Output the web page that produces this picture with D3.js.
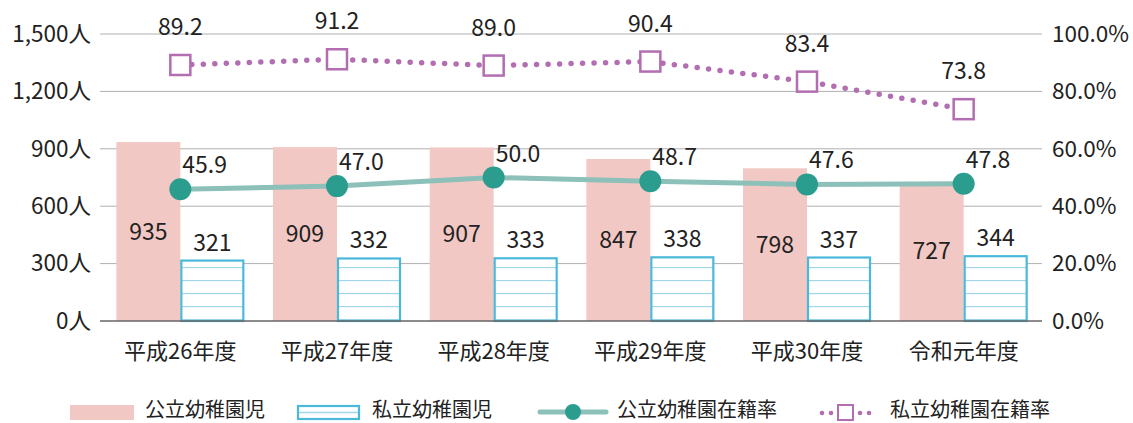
<!DOCTYPE html>
<html>
<head>
<meta charset="utf-8">
<title>幼稚園児数と在籍率</title>
<script src="https://unpkg.com/d3@7/dist/d3.min.js"></script>
<style>
  body { margin: 0; background: #fff; }
  text { font-family: "Noto Sans CJK JP", "Noto Sans", sans-serif; fill: #222; }
</style>
</head>
<body>
<div id="chart"></div>
<script>
// data
const years = ["平成26年度", "平成27年度", "平成28年度", "平成29年度", "平成30年度", "令和元年度"];
const publicKids = [935, 909, 907, 847, 798, 727];
const privateKids = [321, 332, 333, 338, 337, 344];
const publicRate = [45.9, 47.0, 50.0, 48.7, 47.6, 47.8];
const privateRate = [89.2, 91.2, 89.0, 90.4, 83.4, 73.8];
const leftTicks = [0, 300, 600, 900, 1200, 1500];
const rightTicks = [0, 20, 40, 60, 80, 100];

const W = 1133, H = 423;
const m = {left: 102, right: 91, top: 34, bottom: 102};

const pink = "#f2c8c4", blue = "#4ab9d9", blueLine = "#9fd6e9",
      teal = "#2b9d8f", tealLine = "#8cc0b8", purple = "#b36db1";

const svg = d3.select("#chart").append("svg")
    .attr("width", W).attr("height", H);

const defs = svg.append("defs");
const pat = defs.append("pattern")
    .attr("id", "hatch")
    .attr("patternUnits", "userSpaceOnUse")
    .attr("width", 20).attr("height", 13)
    .attr("y", 321 - 2);
pat.append("rect").attr("width", 20).attr("height", 13).attr("fill", "#fff");
pat.append("line").attr("x1", 0).attr("x2", 20).attr("y1", 0.5).attr("y2", 0.5)
    .attr("stroke", blueLine).attr("stroke-width", 1.3);

const x = d3.scaleBand().domain(years).range([m.left, W - m.right]);
const y = d3.scaleLinear().domain([0, 1500]).range([H - m.bottom, m.top]);
const yr = d3.scaleLinear().domain([0, 100]).range([H - m.bottom, m.top]);
const bw = 64;
const cx = d => x(d) + x.bandwidth() / 2;

// grid lines
svg.append("g").selectAll("line").data(leftTicks.slice(1)).join("line")
    .attr("x1", m.left - 2).attr("x2", W - m.right)
    .attr("y1", d => y(d)).attr("y2", d => y(d))
    .attr("stroke", "#b0b0b0").attr("stroke-width", 1);

// axes
const axL = svg.append("g")
    .attr("transform", `translate(${m.left},0)`)
    .call(d3.axisLeft(y).tickValues(leftTicks).tickSize(0).tickPadding(11)
        .tickFormat(d => d3.format(",")(d) + "人"));
const axR = svg.append("g")
    .attr("transform", `translate(${W - m.right},0)`)
    .call(d3.axisRight(yr).tickValues(rightTicks).tickSize(0).tickPadding(10)
        .tickFormat(d => d.toFixed(1) + "%"));
[axL, axR].forEach(a => {
  a.select(".domain").remove();
  a.selectAll("text").attr("font-size", 22.5).attr("fill", "#222")
      .attr("font-family", "'Noto Sans CJK JP', sans-serif");
});

// public bars
svg.append("g").selectAll("rect").data(years).join("rect")
    .attr("x", d => cx(d) - bw)
    .attr("y", (d, i) => y(publicKids[i]))
    .attr("width", bw)
    .attr("height", (d, i) => y(0) - y(publicKids[i]))
    .attr("fill", pink);

// private bars
svg.append("g").selectAll("rect").data(years).join("rect")
    .attr("x", d => cx(d) + 1)
    .attr("y", (d, i) => y(privateKids[i]) + 1)
    .attr("width", bw - 2)
    .attr("height", (d, i) => y(0) - y(privateKids[i]) - 1)
    .attr("fill", "url(#hatch)")
    .attr("stroke", blue).attr("stroke-width", 2.2);

// baseline
svg.append("line")
    .attr("x1", m.left - 2).attr("x2", W - m.right)
    .attr("y1", y(0)).attr("y2", y(0))
    .attr("stroke", "#666").attr("stroke-width", 1.5);

// bar labels
svg.append("g").selectAll("text").data(years).join("text")
    .attr("x", d => cx(d) - bw / 2)
    .attr("y", (d, i) => (y(publicKids[i]) + y(0)) / 2 + 8)
    .attr("text-anchor", "middle").attr("font-size", 23)
    .text((d, i) => publicKids[i]);
svg.append("g").selectAll("text").data(years).join("text")
    .attr("x", d => cx(d) + bw / 2)
    .attr("y", (d, i) => y(privateKids[i]) - 9)
    .attr("text-anchor", "middle").attr("font-size", 23)
    .text((d, i) => privateKids[i]);

// public rate line
const linePub = d3.line().x((d, i) => cx(years[i])).y(d => yr(d));
svg.append("path").datum(publicRate)
    .attr("d", linePub).attr("fill", "none")
    .attr("stroke", tealLine).attr("stroke-width", 5);
svg.append("g").selectAll("circle").data(publicRate).join("circle")
    .attr("cx", (d, i) => cx(years[i])).attr("cy", d => yr(d))
    .attr("r", 11).attr("fill", teal);
svg.append("g").selectAll("text").data(publicRate).join("text")
    .attr("x", (d, i) => cx(years[i]) + 2)
    .attr("y", d => yr(d) - 16)
    .attr("font-size", 23)
    .text(d => d.toFixed(1));

// private rate line
svg.append("path").datum(privateRate)
    .attr("d", linePub).attr("fill", "none")
    .attr("stroke", purple).attr("stroke-width", 5.5)
    .attr("stroke-linecap", "round")
    .attr("stroke-dasharray", "0 11.5");
svg.append("g").selectAll("rect").data(privateRate).join("rect")
    .attr("x", (d, i) => cx(years[i]) - 10)
    .attr("y", d => yr(d) - 10)
    .attr("width", 20).attr("height", 20)
    .attr("fill", "#fff").attr("stroke", purple).attr("stroke-width", 2.5);
svg.append("g").selectAll("text").data(privateRate).join("text")
    .attr("x", (d, i) => cx(years[i]))
    .attr("y", d => yr(d) - 30)
    .attr("text-anchor", "middle").attr("font-size", 23)
    .text(d => d.toFixed(1));

// category labels
svg.append("g").selectAll("text").data(years).join("text")
    .attr("x", d => cx(d)).attr("y", 359)
    .attr("text-anchor", "middle").attr("font-size", 22)
    .text(d => d);

// legend
const lg = svg.append("g").attr("transform", "translate(0,410)");
lg.append("rect").attr("x", 70).attr("y", -5).attr("width", 64).attr("height", 15).attr("fill", pink);
lg.append("text").attr("x", 145).attr("y", 7).attr("font-size", 20).text("公立幼稚園児");

lg.append("rect").attr("x", 298).attr("y", -4).attr("width", 61).attr("height", 13)
    .attr("fill", "#fff").attr("stroke", blue).attr("stroke-width", 2.2);
lg.append("line").attr("x1", 299).attr("x2", 358).attr("y1", 2.5).attr("y2", 2.5)
    .attr("stroke", blueLine).attr("stroke-width", 1.3);
lg.append("text").attr("x", 372).attr("y", 7).attr("font-size", 20).text("私立幼稚園児");

lg.append("line").attr("x1", 540).attr("x2", 606).attr("y1", 2).attr("y2", 2)
    .attr("stroke", tealLine).attr("stroke-width", 5).attr("stroke-linecap", "round");
lg.append("circle").attr("cx", 573).attr("cy", 2).attr("r", 8).attr("fill", teal);
lg.append("text").attr("x", 617).attr("y", 7).attr("font-size", 20).text("公立幼稚園在籍率");

[822, 831, 860, 869].forEach(px =>
  lg.append("circle").attr("cx", px).attr("cy", 3).attr("r", 2.3).attr("fill", purple));
lg.append("rect").attr("x", 838).attr("y", -5).attr("width", 15).attr("height", 15)
    .attr("fill", "#fff").attr("stroke", purple).attr("stroke-width", 2);
lg.append("text").attr("x", 890).attr("y", 7).attr("font-size", 20).text("私立幼稚園在籍率");
</script>
</body>
</html>
